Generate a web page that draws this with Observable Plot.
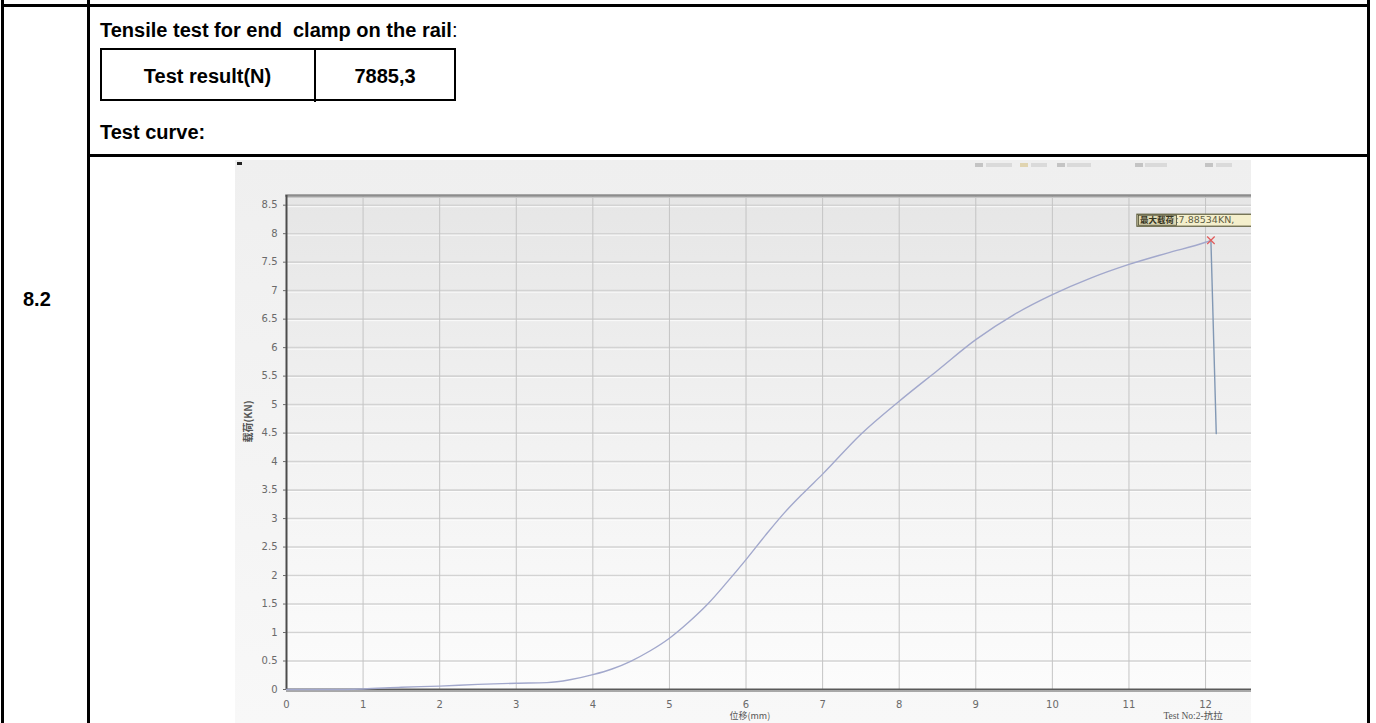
<!DOCTYPE html>
<html><head><meta charset="utf-8">
<script src="https://cdn.jsdelivr.net/npm/d3@7"></script>
<script src="https://cdn.jsdelivr.net/npm/@observablehq/plot@0.6"></script>
<style>
html,body{margin:0;padding:0;background:#fff;width:1376px;height:723px;overflow:hidden;}
.ln{position:absolute;background:#000;}
.t{position:absolute;font-family:"Liberation Sans",Arial,sans-serif;font-weight:bold;font-size:20px;color:#000;white-space:nowrap;line-height:1;}
#chart{position:absolute;left:235px;top:160px;width:1016px;height:563px;overflow:hidden;background:linear-gradient(#efefef,#f8f8f8);}
.tb{position:absolute;background:#dadada;height:4px;top:3px;}
</style></head><body>
<!-- document table lines -->
<div class="ln" style="left:1px;top:0;width:3px;height:723px"></div>
<div class="ln" style="left:87px;top:0;width:3px;height:723px"></div>
<div class="ln" style="left:1367px;top:0;width:3px;height:723px"></div>
<div class="ln" style="left:1px;top:4px;width:1369px;height:3px"></div>
<div class="ln" style="left:87px;top:154px;width:1283px;height:3px"></div>
<!-- inner result table -->
<div style="position:absolute;left:100px;top:48px;width:352px;height:49px;border:2.5px solid #000;"></div>
<div class="ln" style="left:314px;top:48px;width:2px;height:54px"></div>

<div class="t" style="left:100px;top:20px">Tensile test for end&nbsp; clamp on the rail<span style="font-weight:normal">:</span></div>
<div class="t" style="left:100px;top:66px;width:215px;text-align:center">Test result(N)</div>
<div class="t" style="left:315px;top:66px;width:140px;text-align:center">7885,3</div>
<div class="t" style="left:100px;top:122px">Test curve:</div>
<div class="t" style="left:23px;top:289px">8.2</div>

<div id="chart">
  <div style="position:absolute;left:2px;top:2px;width:5px;height:3px;background:#222"></div>
  <div class="tb" style="left:740px;width:8px;background:#c4c4c4"></div>
  <div class="tb" style="left:751px;width:26px"></div>
  <div class="tb" style="left:785px;width:8px;background:#e0d4b0"></div>
  <div class="tb" style="left:796px;width:16px"></div>
  <div class="tb" style="left:822px;width:8px;background:#c4c4c4"></div>
  <div class="tb" style="left:832px;width:24px"></div>
  <div class="tb" style="left:900px;width:8px;background:#c4c4c4"></div>
  <div class="tb" style="left:910px;width:22px"></div>
  <div class="tb" style="left:970px;width:8px;background:#c4c4c4"></div>
  <div class="tb" style="left:981px;width:16px"></div>
</div>

<script>
// ---- data ----
const displacement = [0, 0.6, 1, 1.5, 2, 2.5, 3, 3.4, 3.7, 4, 4.25, 4.5, 4.75, 5, 5.25, 5.5, 5.75, 6, 6.25, 6.5, 6.75, 7, 7.5, 8, 8.5, 9, 9.5, 10, 10.5, 11, 11.5, 12, 12.07];
const load = [0, 0, 0.01, 0.04, 0.06, 0.09, 0.11, 0.12, 0.17, 0.26, 0.36, 0.5, 0.68, 0.9, 1.18, 1.5, 1.88, 2.28, 2.7, 3.1, 3.45, 3.78, 4.48, 5.06, 5.6, 6.14, 6.58, 6.93, 7.22, 7.46, 7.66, 7.85, 7.885];
const dropDisplacement = [12.07, 12.14];
const dropLoad = [7.885, 4.49];
const peakDisplacement = [12.07];
const peakLoad = [7.885];
const peakTitle = "最大载荷";
const peakValue = ":7.88534KN,";
const xTicks = [0, 1, 2, 3, 4, 5, 6, 7, 8, 9, 10, 11, 12];
const yTicks = [0, 0.5, 1, 1.5, 2, 2.5, 3, 3.5, 4, 4.5, 5, 5.5, 6, 6.5, 7, 7.5, 8, 8.5];
const yLabel = "载荷(KN)";
const xLabel = "位移(mm)";
const testNo = "Test No:2-抗拉";

const curve = displacement.map((x, i) => ({x, y: load[i]}));
const drop = dropDisplacement.map((x, i) => ({x, y: dropLoad[i]}));
const peak = peakDisplacement.map((x, i) => ({x, y: peakLoad[i]}));

function defs() {
  const d = d3.create("svg:defs");
  const g = d.append("linearGradient").attr("id", "plotBg").attr("x1", 0).attr("y1", 0).attr("x2", 0).attr("y2", 1);
  g.append("stop").attr("offset", "0%").attr("stop-color", "#e6e6e6");
  g.append("stop").attr("offset", "55%").attr("stop-color", "#f3f3f3");
  g.append("stop").attr("offset", "100%").attr("stop-color", "#fcfcfc");
  return d.node();
}

function peakLabel(index, scales) {
  const px = scales.x(peak[0].x), py = scales.y(peak[0].y);
  const g = d3.create("svg:g").attr("text-anchor", "start");
  g.append("rect").attr("x", px - 73.5).attr("y", py - 25.5).attr("width", 130).attr("height", 12)
    .attr("fill", "#f4efcc").attr("stroke", "#5e5d3e").attr("stroke-width", 1.2);
  g.append("rect").attr("x", px - 72).attr("y", py - 24.5).attr("width", 38).attr("height", 10)
    .attr("fill", "#ddd8b4").attr("stroke", "#4a4a30").attr("stroke-width", 0.8);
  const t = g.append("text").attr("x", px - 70.5).attr("y", py - 16.3)
    .attr("font-family", "'Noto Sans CJK SC', 'DejaVu Sans', sans-serif");
  t.append("tspan").attr("font-weight", "bold").attr("font-size", 8.5).attr("fill", "#35351f").text(peakTitle);
  t.append("tspan").attr("font-size", 9.5).attr("font-family", "'DejaVu Sans', sans-serif").attr("fill", "#5e5e44").attr("dx", 1.5).text(peakValue);
  return g.node();
}

const chart = Plot.plot({
  width: 1016,
  height: 563,
  marginLeft: 51,
  marginRight: 0,
  marginTop: 35,
  marginBottom: 34,
  style: {background: "transparent", fontFamily: "'DejaVu Sans', sans-serif", fontSize: "10px", overflow: "hidden"},
  x: {domain: [0, 12.6]},
  y: {domain: [0, 8.67]},
  marks: [
    defs,
    Plot.frame({fill: "url(#plotBg)", stroke: "none"}),
    Plot.ruleY(yTicks.slice(1), {stroke: "#d3d3d3", strokeWidth: 1.6}),
    Plot.ruleY(yTicks.slice(1), {stroke: "#ffffff", strokeWidth: 0.8, dy: 1.5}),
    Plot.ruleX(xTicks.slice(1), {stroke: "#c4c4c4", strokeWidth: 1}),
    Plot.frame({anchor: "top", stroke: "#8c8c8c", strokeWidth: 2.5}),
    Plot.frame({anchor: "top", stroke: "#c8c8c8", strokeWidth: 1, dy: 2}),
    Plot.ruleX([0], {stroke: "#4c4c4c", strokeWidth: 2}),
    Plot.ruleY([0], {stroke: "#5a5a5a", strokeWidth: 2}),
    Plot.ruleY([0], {stroke: "#a8a8a8", strokeWidth: 1, dy: 2}),
    Plot.line(curve, {x: "x", y: "y", stroke: "#a2a8cc", strokeWidth: 1.4, curve: "monotone-x"}),
    Plot.line(drop, {x: "x", y: "y", stroke: "#8298b4", strokeWidth: 1.4}),
    Plot.dot(peak, {x: "x", y: "y", symbol: "times", stroke: "#e25b5b", r: 3.5, strokeWidth: 1.2}),
    peakLabel,
    Plot.axisY({ticks: yTicks, tickFormat: d => String(d), tickSize: 3, tickPadding: 6, color: "#6a6a6a", fontSize: 10, label: null}),
    Plot.axisX({ticks: xTicks, tickFormat: d => String(d), tickSize: 0, tickPadding: 11, color: "#6a6a6a", fontSize: 10, label: null}),
    Plot.text([yLabel], {frameAnchor: "left", rotate: -90, dx: -38, fontSize: 10, fill: "#555", fontWeight: "bold", fontFamily: "'Noto Sans CJK SC', sans-serif"}),
    Plot.text([xLabel], {x: () => 6.05, frameAnchor: "bottom", dy: 29.5, fontSize: 9, fill: "#555", fontFamily: "'Noto Sans CJK SC', sans-serif"}),
    Plot.text([testNo], {x: () => 11.45, frameAnchor: "bottom", dy: 29.5, textAnchor: "start", fontSize: 9.5, fill: "#555", fontFamily: "'Liberation Serif', 'Noto Sans CJK SC', serif"})
  ]
});
chart.style.position = "absolute";
chart.style.left = "0px";
chart.style.top = "0px";
document.getElementById("chart").appendChild(chart);
</script>
</body></html>
